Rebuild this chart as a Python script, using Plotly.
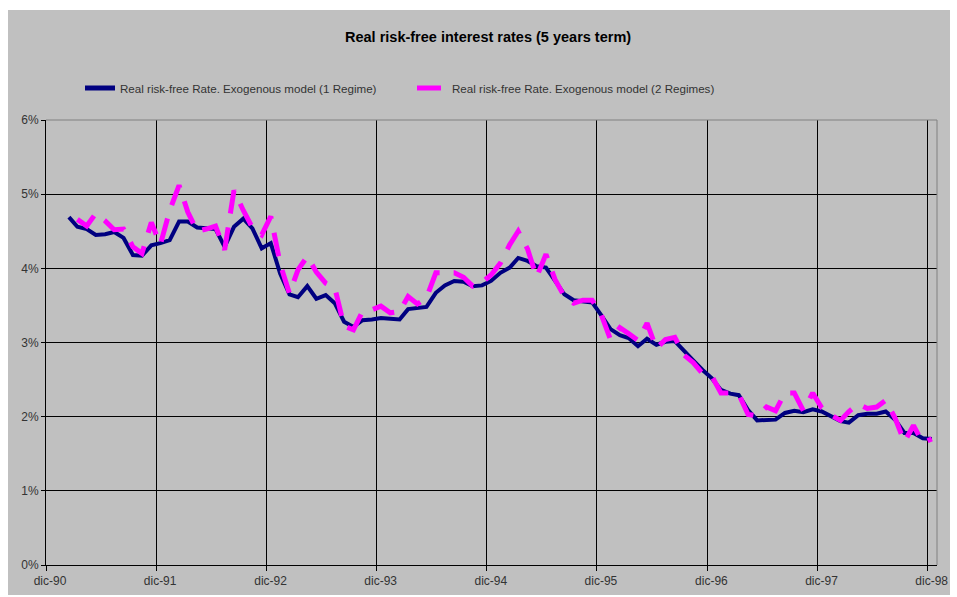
import pandas as pd
import plotly.graph_objects as go

# Monthly observations, mid-month dates
dates_1r = pd.date_range("1991-02-01", periods=95, freq="MS") + pd.Timedelta(days=14)
dates_2r = pd.date_range("1991-03-01", periods=94, freq="MS") + pd.Timedelta(days=14)

# Real risk-free rate, exogenous model, 1 regime (%)
rate_1_regime = [
    4.69, 4.56, 4.53, 4.45, 4.46, 4.49, 4.41, 4.18, 4.17, 4.31, 4.34,
    4.38, 4.63, 4.63, 4.55, 4.54, 4.53, 4.29, 4.56, 4.67, 4.54, 4.27,
    4.34, 3.93, 3.65, 3.61, 3.76, 3.59, 3.64, 3.53, 3.28, 3.21, 3.30,
    3.31, 3.33, 3.32, 3.31, 3.45, 3.46, 3.48, 3.67, 3.77, 3.83, 3.82,
    3.76, 3.77, 3.83, 3.94, 4.01, 4.14, 4.10, 4.03, 4.01, 3.84, 3.65,
    3.57, 3.56, 3.54, 3.37, 3.18, 3.10, 3.06, 2.95, 3.05, 2.97, 3.01,
    3.02, 2.88, 2.76, 2.63, 2.52, 2.36, 2.31, 2.29, 2.09, 1.95, 1.95,
    1.96, 2.05, 2.08, 2.06, 2.10, 2.07, 2.01, 1.94, 1.92, 2.02, 2.04,
    2.04, 2.07, 1.96, 1.78, 1.78, 1.71, 1.70,
]

# Real risk-free rate, exogenous model, 2 regimes (%)
rate_2_regimes = [
    4.66, 4.57, 4.74, 4.64, 4.52, 4.53, 4.29, 4.20, 4.62, 4.32, 4.78,
    5.12, 4.76, 4.50, 4.53, 4.57, 4.25, 5.05, 4.78, 4.55, 4.45, 4.70,
    4.06, 3.66, 3.98, 4.16, 3.95, 3.80, 3.74, 3.22, 3.17, 3.42, 3.44,
    3.49, 3.40, 3.42, 3.62, 3.52, 3.60, 3.94, 3.94, 3.94, 3.88, 3.76,
    3.81, 3.91, 4.07, 4.32, 4.50, 4.26, 3.88, 4.19, 3.85, 3.62, 3.53,
    3.57, 3.57, 3.38, 3.04, 3.20, 3.12, 3.03, 3.26, 2.92, 3.04, 3.07,
    2.83, 2.73, 2.58, 2.55, 2.32, 2.32, 2.30, 2.03, 2.01, 2.13, 2.08,
    2.32, 2.32, 2.08, 2.32, 2.12, 2.02, 1.95, 2.07, 2.17, 2.11, 2.13,
    2.22, 1.98, 1.66, 1.88, 1.65, 1.70,
]

tick_dates = pd.date_range("1990-12-01", periods=9, freq="12MS")
tick_labels = ["dic-90", "dic-91", "dic-92", "dic-93", "dic-94",
               "dic-95", "dic-96", "dic-97", "dic-98"]

FONT = "Liberation Sans, Arial, sans-serif"
BG = "#C0C0C0"

fig = go.Figure()
fig.add_trace(go.Scatter(
    x=dates_1r, y=rate_1_regime, mode="lines",
    name="Real risk-free Rate. Exogenous model (1 Regime)",
    line=dict(color="#000080", width=4),
    legend="legend",
))
fig.add_trace(go.Scatter(
    x=dates_2r, y=rate_2_regimes, mode="lines",
    name="Real risk-free Rate. Exogenous model (2 Regimes)",
    line=dict(color="#FF00FF", width=5, dash="24px,14px"),
    legend="legend2",
))

W, H = 957, 597
ML, MR, MT, MB = 46, 20, 120, 32
pw, ph = W - ML - MR, H - MT - MB


def px_x(x):
    return (x - ML) / pw


def px_y(y):
    return (H - MB - y) / ph


legend_style = dict(
    orientation="h", yanchor="middle", xanchor="left",
    bgcolor="rgba(0,0,0,0)", borderwidth=0,
    font=dict(family=FONT, size=11.6, color="#333333"),
    y=px_y(88), itemsizing="constant",
)

fig.update_layout(
    width=W, height=H,
    margin=dict(l=ML, r=MR, t=MT, b=MB, autoexpand=False),
    paper_bgcolor="white", plot_bgcolor=BG,
    title=dict(
        text="<b>Real risk-free interest rates (5 years term)</b>",
        font=dict(family=FONT, size=14.5, color="black"),
        x=0.51, xanchor="center", y=1 - 37 / H, yanchor="middle",
        yref="container",
    ),
    legend=dict(**legend_style, x=px_x(80)),
    legend2=dict(**legend_style, x=px_x(412)),
    xaxis=dict(
        type="date",
        range=["1990-12-01", "1999-01-01"],
        tickvals=tick_dates, ticktext=tick_labels,
        showgrid=True, gridcolor="black", gridwidth=1,
        showline=True, linecolor="black", linewidth=1,
        ticks="outside", ticklen=5, tickcolor="black",
        tickfont=dict(family=FONT, size=12, color="#333333"),
        ticklabelshift=4, automargin=False,
        zeroline=False,
    ),
    yaxis=dict(
        range=[0, 6], dtick=1, ticksuffix="%",
        showgrid=True, gridcolor="black", gridwidth=1,
        showline=True, linecolor="black", linewidth=1,
        ticks="outside", ticklen=4, tickcolor="black",
        tickfont=dict(family=FONT, size=12, color="#333333"),
        automargin=False,
        zeroline=False,
    ),
    showlegend=True,
    shapes=[
        # chart area background
        dict(type="rect", xref="paper", yref="paper", layer="below",
             x0=px_x(8), x1=px_x(950), y0=px_y(595), y1=px_y(10),
             fillcolor=BG, line=dict(width=0)),
        # plot area border (top and right)
        dict(type="line", xref="paper", yref="paper", layer="above",
             x0=0, x1=1, y0=1, y1=1, line=dict(color="#808080", width=1)),
        dict(type="line", xref="paper", yref="paper", layer="above",
             x0=1, x1=1, y0=0, y1=1, line=dict(color="#808080", width=1)),
    ],
)

fig.write_html("out.html")
